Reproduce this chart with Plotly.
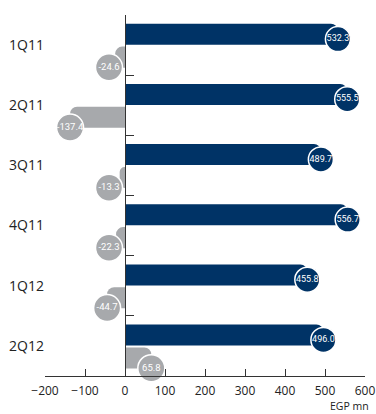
import plotly.graph_objects as go

categories = ["1Q11", "2Q11", "3Q11", "4Q11", "1Q12", "2Q12"]
blue_values = [532.3, 555.5, 489.7, 556.7, 455.8, 496.0]
grey_values = [-24.6, -137.4, -13.3, -22.3, -44.7, 65.8]
x_ticks = [-200, -100, 0, 100, 200, 300, 400, 500, 600]

BLUE = "#003366"
GREY = "#a7a9ac"
FONT = "Open Sans, Liberation Sans, sans-serif"
LABEL_FONT = "Roboto, Liberation Sans, sans-serif"

idx = list(range(len(categories)))
blue_y = [i - 0.18 for i in idx]
grey_y = [i + 0.2 for i in idx]
blue_label_y = [i - 0.1 for i in idx]
grey_label_y = [i + 0.37 for i in idx]
grey_label_x = [(1 if v > 0 else -1) * max(abs(v), 40) for v in grey_values]

fig = go.Figure()
fig.add_trace(go.Bar(
    x=blue_values, y=blue_y, orientation="h", width=0.35,
    marker=dict(color=BLUE, line=dict(width=0)), hoverinfo="skip",
))
fig.add_trace(go.Bar(
    x=grey_values, y=grey_y, orientation="h", width=0.35,
    marker=dict(color=GREY, line=dict(width=0)), hoverinfo="skip",
))
fig.add_trace(go.Scatter(
    x=blue_values, y=blue_label_y, mode="markers+text", cliponaxis=False,
    marker=dict(size=25, color=BLUE, line=dict(color="white", width=1.5)),
    text=[f"{v:.1f}" for v in blue_values], textposition="middle center",
    textfont=dict(color="white", size=9, family=LABEL_FONT), hoverinfo="skip",
))
fig.add_trace(go.Scatter(
    x=grey_label_x, y=grey_label_y, mode="markers+text", cliponaxis=False,
    marker=dict(size=27, color=GREY, line=dict(color="white", width=1.5)),
    text=[f"{v:.1f}" for v in grey_values], textposition="middle center",
    textfont=dict(color="white", size=9.5, family=LABEL_FONT), hoverinfo="skip",
))

yr = [len(categories) - 0.5, -0.5]
fig.update_layout(
    width=376, height=414,
    margin=dict(l=45, r=11, t=15, b=38, autoexpand=False),
    paper_bgcolor="white", plot_bgcolor="white",
    showlegend=False, barmode="overlay", barcornerradius=7,
    font=dict(family=FONT, color="#222"),
    xaxis=dict(
        range=[-200, 600], tickvals=x_ticks, showgrid=False, zeroline=False,
        showline=True, linecolor="#333", linewidth=1, automargin=False,
        ticks="inside", ticklen=7, tickcolor="#333", ticklabelstandoff=4,
        tickfont=dict(size=12, family=FONT, color="#222"),
    ),
    yaxis=dict(
        range=yr, tickvals=idx, ticktext=categories, showgrid=False,
        zeroline=False, showline=False, ticks="", automargin=False,
        tickfont=dict(size=14, family=FONT, color="#222"),
    ),
    yaxis2=dict(
        range=yr, overlaying="y", anchor="free", position=0.25, side="left",
        tickvals=[i - 0.5 for i in idx], showticklabels=False, automargin=False,
        showgrid=False, zeroline=False, showline=True, linecolor="#333",
        linewidth=1, ticks="inside", ticklen=8, tickcolor="#333",
    ),
    annotations=[dict(
        text="EGP mn", xref="paper", yref="paper", x=1.02, y=0,
        xanchor="right", yanchor="middle", yshift=-30, showarrow=False,
        font=dict(size=10.5, family=FONT, color="#222"),
    )],
)
fig.add_trace(go.Scatter(x=[None], y=[None], yaxis="y2", showlegend=False))

fig.write_html("out.html")
